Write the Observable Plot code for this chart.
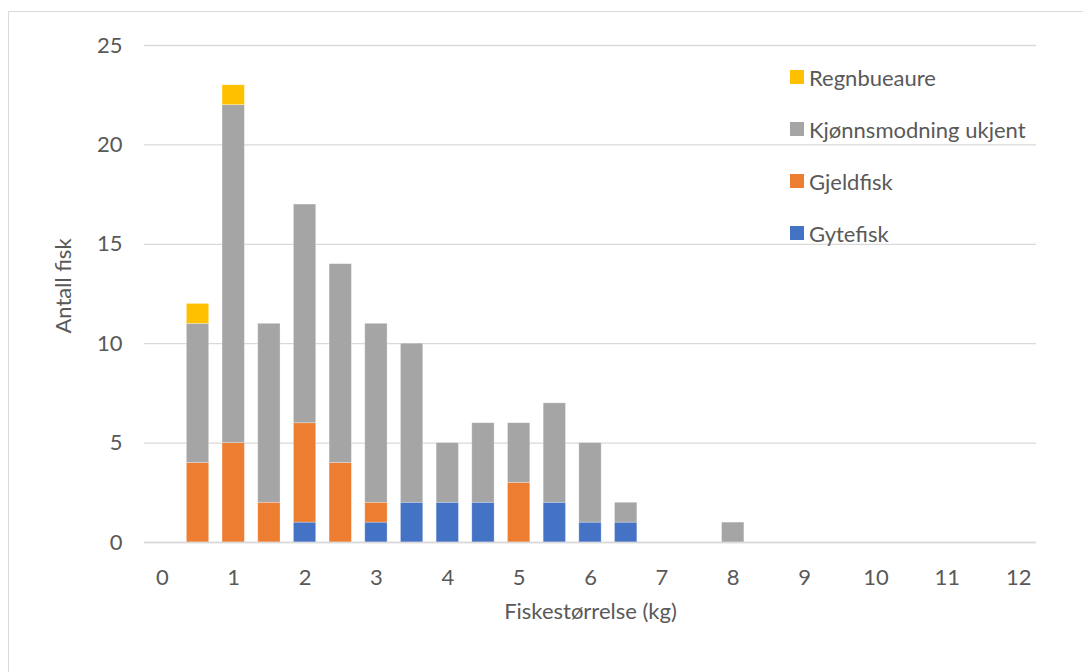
<!DOCTYPE html>
<html>
<head>
<meta charset="utf-8">
<script src="https://cdn.jsdelivr.net/npm/d3@7"></script>
<script src="https://cdn.jsdelivr.net/npm/@observablehq/plot@0.6"></script>
<style>
  html, body { margin: 0; padding: 0; background: #fff; }
  #wrap { position: relative; width: 1083px; height: 672px; overflow: hidden; font-family: Lato, "Open Sans", sans-serif; color: #595959; }
  #frame { position: absolute; left: 8px; top: 11px; width: 1100px; height: 700px; border-top: 1.5px solid #d9d9d9; border-left: 1.5px solid #d9d9d9; }
  #legend { position: absolute; left: 790px; top: 51px; }
  .row { display: flex; align-items: center; height: 52px; font-size: 22px; }
  .sw { width: 14px; height: 14px; margin-right: 5px; }
  svg { position: absolute; left: 0; top: 0; }
</style>
</head>
<body>
<div id="wrap"><div id="frame"></div></div>
<script>
const sizes = [0,0.5,1,1.5,2,2.5,3,3.5,4,4.5,5,5.5,6,6.5,7,7.5,8,8.5,9,9.5,10,10.5,11,11.5,12];
const gytefisk  = [0,0,0,0,1,0,1,2,2,2,0,2,1,1,0,0,0,0,0,0,0,0,0,0,0];
const gjeldfisk = [0,4,5,2,5,4,1,0,0,0,3,0,0,0,0,0,0,0,0,0,0,0,0,0,0];
const ukjent    = [0,7,17,9,11,10,9,8,3,4,3,5,4,1,0,0,1,0,0,0,0,0,0,0,0];
const regnbue   = [0,1,1,0,0,0,0,0,0,0,0,0,0,0,0,0,0,0,0,0,0,0,0,0,0];
const seriesNames = ["Gytefisk", "Gjeldfisk", "Kjønnsmodning ukjent", "Regnbueaure"];
const seriesColors = ["#4472C4", "#ED7D31", "#A5A5A5", "#FFC000"];
const yTicks = [0,5,10,15,20,25];
const xTitle = "Fiskestørrelse (kg)";
const yTitle = "Antall fisk";

const seriesValues = [gytefisk, gjeldfisk, ukjent, regnbue];
const data = [];
seriesNames.forEach((s, i) => sizes.forEach((x, j) => data.push({size: x, series: s, count: seriesValues[i][j]})));

const chart = Plot.plot({
  width: 1083,
  height: 672,
  marginLeft: 144,
  marginRight: 47,
  marginTop: 45,
  marginBottom: 130,
  style: {fontFamily: "Lato, 'Open Sans', sans-serif", fontSize: "22px", color: "#595959", background: "transparent"},
  x: {type: "band", domain: sizes, paddingInner: 0.375, paddingOuter: 0.1875, round: false, axis: null},
  y: {domain: [0, 25], axis: null},
  color: {domain: seriesNames, range: seriesColors},
  marks: [
    Plot.gridY(yTicks, {stroke: "#d9d9d9", strokeOpacity: 1, strokeWidth: 1.3}),
    Plot.barY(data, {x: "size", y: "count", fill: "series", order: seriesNames, stroke: "#ffffff", strokeOpacity: 0.35, strokeWidth: 0.8}),
    Plot.ruleY([0], {stroke: "#d9d9d9", strokeWidth: 1.6}),
    Plot.axisX({ticks: sizes.filter(Number.isInteger), tickSize: 0, tickPadding: 27, label: null, fill: "#595959", fontSize: 22}),
    Plot.axisY({ticks: yTicks, tickSize: 0, tickPadding: 22, label: null, fill: "#595959", fontSize: 22}),
    Plot.text([xTitle], {frameAnchor: "bottom", dy: 76, text: d => d, fill: "#595959", fontSize: 22}),
    Plot.text([yTitle], {frameAnchor: "left", textAnchor: "middle", dx: -81, dy: -8, rotate: -90, text: d => d, fill: "#595959", fontSize: 22})
  ]
});
const wrap = document.getElementById("wrap");
wrap.appendChild(chart);

const legend = document.createElement("div");
legend.id = "legend";
[...seriesNames].reverse().forEach(s => {
  const row = document.createElement("div");
  row.className = "row";
  const sw = document.createElement("div");
  sw.className = "sw";
  sw.style.background = seriesColors[seriesNames.indexOf(s)];
  const t = document.createElement("span");
  t.textContent = s;
  row.appendChild(sw); row.appendChild(t);
  legend.appendChild(row);
});
wrap.appendChild(legend);
</script>
</body>
</html>
